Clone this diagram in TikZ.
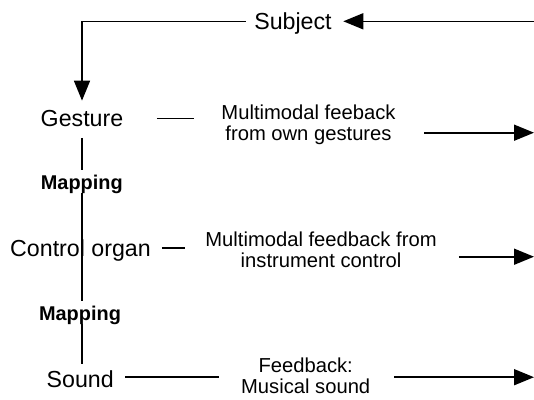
\documentclass[tikz,border=0pt]{standalone}
\usepackage{fontspec}
\setmainfont{Liberation Sans}
\usetikzlibrary{arrows.meta,positioning}

\begin{document}
\begin{tikzpicture}[x=1pt,y=-1pt,line width=1.6pt,
    lbl/.style={inner sep=2pt,font=\fontsize{23.2}{26}\selectfont,text height=16.7pt,text depth=0pt},
    fb/.style={inner sep=2pt,align=center,font=\fontsize{20.2}{21}\selectfont},
    map/.style={fill=white,inner xsep=2pt,inner ysep=3pt,font=\fontsize{19.9}{22}\selectfont\bfseries,text height=16.5pt,text depth=0pt},
    arr/.style={-{Triangle[length=20pt,width=16pt]}}]
    \useasboundingbox (0,0) rectangle (534,399);

    \node[lbl] (subject) at (293,21.3)   {Subject};
    \node[lbl] (gesture) at (82,118.3)   {Gesture};
    \node[lbl] (control) at (80.5,247.7) {Control organ};
    \node[lbl] (sound)   at (80.2,379.6) {Sound};

    \node[fb] (fbgesture) at (308.5,124.6) {Multimodal feeback\\from own gestures};
    \node[fb] (fbcontrol) at (321,250.2)   {Multimodal feedback from\\instrument control};
    \node[fb] (fbsound)   at (305.7,375.3) {Feedback:\\Musical sound};

    \coordinate (in)         at (534,21.3);
    \coordinate (outgesture) at (534,132.7);
    \coordinate (outcontrol) at (534,256.7);
    \coordinate (outsound)   at (534,377.2);

    % loop back to the subject
    \draw[arr,shorten >=8.8pt] (in) -- (subject.east);
    \draw[arr,shorten <=5.6pt,shorten >=6.5pt] (subject.west) -| (gesture.north);

    % mapping chain
    \draw[shorten <=8.3pt,shorten >=4.4pt] (gesture.south) -- (gesture.south |- sound.north);
    \node[map] (map1) at (81.8,181.35) {Mapping};
    \node[map] (map2) at (80,312.35)   {Mapping};

    % feedback
    \draw[shorten <=30.7pt,shorten >=25pt] (gesture.east) -- (gesture.east -| fbgesture.west);
    \draw[arr,shorten <=26pt] (fbgesture.east |- outgesture) -- (outgesture);
    \draw[shorten <=8.2pt,shorten >=17.4pt] (control.east) -- (control.east -| fbcontrol.west);
    \draw[arr,shorten <=19.4pt] (fbcontrol.east |- outcontrol) -- (outcontrol);
    \draw[shorten <=8.6pt,shorten >=19.5pt] (sound.east |- outsound) -- (fbsound.west |- outsound);
    \draw[arr,shorten <=21.2pt] (fbsound.east |- outsound) -- (outsound);
\end{tikzpicture}
\end{document}
